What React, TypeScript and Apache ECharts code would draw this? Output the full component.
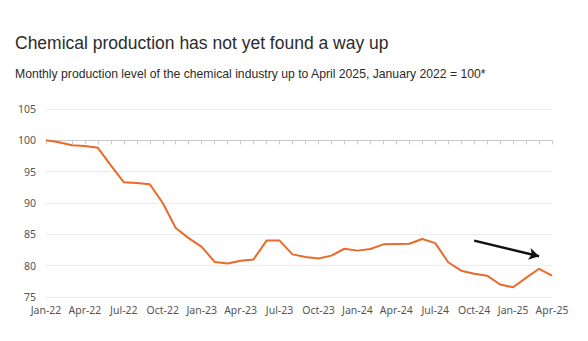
import React, { useEffect, useRef } from "react";
import * as echarts from "echarts";

const months: string[] = [
  "Jan-22","Feb-22","Mar-22","Apr-22","May-22","Jun-22","Jul-22","Aug-22","Sep-22","Oct-22","Nov-22","Dec-22",
  "Jan-23","Feb-23","Mar-23","Apr-23","May-23","Jun-23","Jul-23","Aug-23","Sep-23","Oct-23","Nov-23","Dec-23",
  "Jan-24","Feb-24","Mar-24","Apr-24","May-24","Jun-24","Jul-24","Aug-24","Sep-24","Oct-24","Nov-24","Dec-24",
  "Jan-25","Feb-25","Mar-25","Apr-25",
];

const production: number[] = [
  100, 99.7, 99.2, 99.1, 98.8, 96.0, 93.3, 93.2, 93.0, 90.0, 86.0, 84.4,
  83.0, 80.6, 80.35, 80.8, 81.0, 84.0, 84.0, 81.8, 81.4, 81.15, 81.6, 82.7,
  82.4, 82.65, 83.4, 83.45, 83.5, 84.25, 83.6, 80.55, 79.2, 78.7, 78.4, 77.0,
  76.55, 78.05, 79.5, 78.4,
];

const arrowStart: [number, number] = [32.6, 84.0];
const arrowEnd: [number, number] = [37.7, 81.5];

const yMin = 75;
const yMax = 105;
const yStep = 5;
const baseValue = 100;

const title = "Chemical production has not yet found a way up";
const subtitle = "Monthly production level of the chemical industry up to April 2025, January 2022 = 100*";

export default function App() {
  const ref = useRef<HTMLDivElement>(null);
  useEffect(() => {
    if (!ref.current) return;
    const chart = echarts.init(ref.current, undefined, { renderer: "svg" });
    const H = 341;
    const gridTop = 109;
    const gridBottom = 44;
    const gridHeight = H - gridTop - gridBottom;
    const baseOffset = ((yMax - baseValue) / (yMax - yMin)) * gridHeight;
    const labelFont = "'Noto Sans', sans-serif";
    chart.setOption({
      animation: false,
      backgroundColor: "#ffffff",
      title: [
        {
          text: title,
          left: 10,
          top: 29,
          textStyle: { fontFamily: "'Liberation Sans', Arial, sans-serif", fontSize: 17.5, fontWeight: "normal", color: "#2b2b2b" },
        },
        {
          text: subtitle,
          left: 10,
          top: 63,
          textStyle: { fontFamily: "'Liberation Sans', Arial, sans-serif", fontSize: 12.2, fontWeight: "normal", color: "#2b2b2b" },
        },
      ],
      grid: { left: 46, right: 36, top: gridTop, bottom: gridBottom, containLabel: false },
      xAxis: [
        {
          type: "category",
          data: months,
          boundaryGap: false,
          axisLine: { show: false },
          axisTick: { show: false },
          axisLabel: {
            interval: 2,
            color: "#555",
            fontSize: 10.5,
            fontFamily: labelFont,
            margin: 7,
          },
          splitLine: { show: false },
        },
        {
          type: "category",
          data: months,
          boundaryGap: false,
          position: "top",
          offset: -baseOffset,
          axisLine: { show: true, lineStyle: { color: "#c8c8c8", width: 1 } },
          axisTick: { show: true, inside: true, length: 4, interval: 0, lineStyle: { color: "#c8c8c8" } },
          axisLabel: { show: false },
          splitLine: { show: false },
        },
      ],
      yAxis: {
        type: "value",
        min: yMin,
        max: yMax,
        interval: yStep,
        axisLine: { show: false },
        axisTick: { show: false },
        axisLabel: { color: "#555", fontSize: 10.5, fontFamily: labelFont, margin: 10 },
        splitLine: { lineStyle: { color: "#ececec", width: 1 } },
      },
      series: [
        {
          type: "line",
          data: production,
          xAxisIndex: 0,
          symbol: "none",
          lineStyle: { color: "#EA6A2A", width: 2 },
          emphasis: { disabled: true },
          silent: true,
          markLine: {
            silent: true,
            symbol: ["none", "arrow"],
            symbolSize: [9, 10],
            label: { show: false },
            lineStyle: { color: "#111111", width: 2.5, type: "solid" },
            emphasis: { disabled: true },
            data: [[{ coord: arrowStart }, { coord: arrowEnd }]],
          },
        },
      ],
    });
    return () => chart.dispose();
  }, []);
  return <div ref={ref} style={{ position: "fixed", left: 0, top: 0, width: 588, height: 341 }} />;
}
